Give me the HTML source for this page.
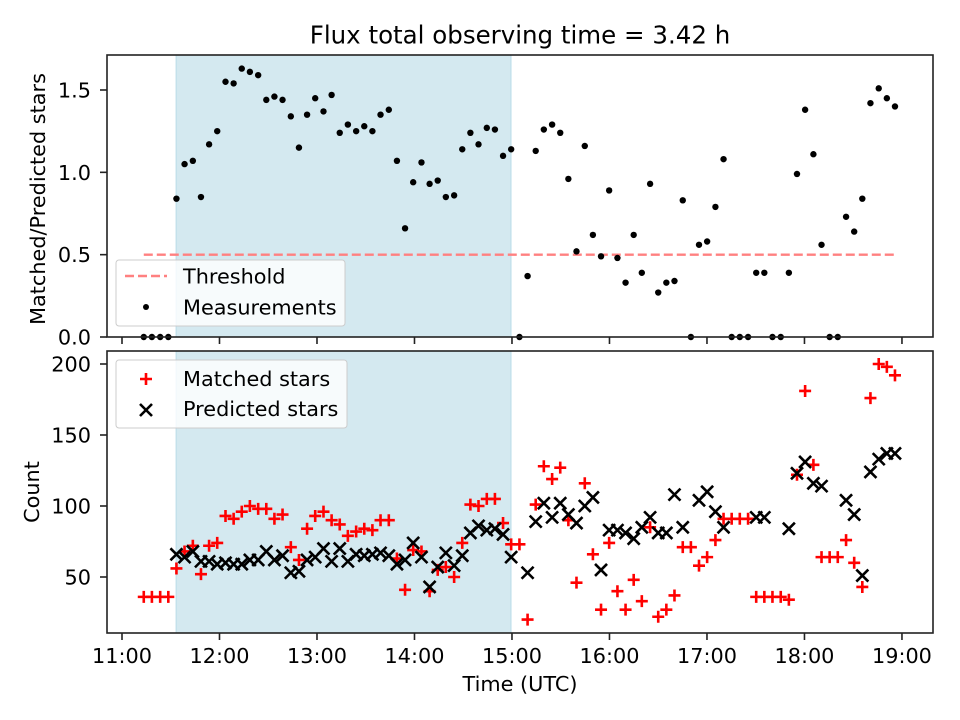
<!DOCTYPE html>
<html><head><meta charset="utf-8"><style>
body{margin:0;background:#fff}
svg{display:block;font-family:"DejaVu Sans","Liberation Sans",sans-serif}
</style></head><body>
<svg id="fig" width="960" height="720" viewBox="0 0 960 720" xmlns="http://www.w3.org/2000/svg"></svg>
<script>
// minutes after 11:00 UTC
const times=[13.4,18.4,23.5,28.5,33.5,38.5,43.6,48.6,53.6,58.6,
63.7,68.7,73.7,78.7,83.8,88.8,93.8,98.8,103.9,108.9,
113.9,118.9,124.0,129.0,134.0,139.0,144.1,149.1,154.1,159.1,
164.2,169.2,174.2,179.2,184.3,189.3,194.3,199.3,204.4,209.4,
214.4,219.4,224.5,229.5,234.5,239.5,244.6,249.6,254.6,259.6,
264.7,269.7,274.7,279.7,284.8,289.8,294.8,299.8,304.9,309.9,
314.9,319.9,325.0,330.0,335.0,340.0,345.1,350.1,355.1,360.1,
365.2,370.2,375.2,380.2,385.3,390.3,395.3,400.3,405.4,410.4,
415.4,420.4,425.5,430.5,435.5,440.5,445.6,450.6,455.6,460.6,
465.7,470.7,475.7];
const ratio=[0,0,0,0,0.84,1.05,1.07,0.85,1.17,1.25,
1.55,1.54,1.63,1.61,1.59,1.44,1.46,1.44,1.34,1.15,
1.35,1.45,1.37,1.47,1.24,1.29,1.25,1.28,1.25,1.35,
1.38,1.07,0.66,0.94,1.06,0.93,0.95,0.85,0.86,1.14,
1.24,1.17,1.27,1.26,1.10,1.14,0,0.37,1.13,1.26,
1.29,1.24,0.96,0.52,1.16,0.62,0.49,0.89,0.48,0.33,
0.62,0.39,0.93,0.27,0.33,0.34,0.83,0,0.56,0.58,
0.79,1.08,0,0,0,0.39,0.39,0,0,0.39,
0.99,1.38,1.11,0.56,0,0,0.73,0.64,0.84,1.42,
1.51,1.45,1.40];
const matched=[36,36,36,36,56,68,72,52,72,74,
93,91,96,100,98,98,91,94,71,62,
84,93,96,90,87,79,82,84,83,90,
90,63,41,69,68,40,55,57,50,74,
101,100,105,105,88,73,73,20,101,128,
119,127,90,46,116,66,27,74,40,27,
48,33,85,22,27,37,71,71,58,64,
76,91,91,91,91,36,36,36,36,34,
122,181,129,64,64,64,76,60,43,176,
200,198,192];
const predicted=[null,null,null,null,66,64,68,61,61,59,
60,59,59,62,62,68,62,65,53,54,
62,64,70,61,70,61,66,65,66,67,
65,59,62,74,64,43,57,67,58,65,
81,86,83,84,80,64,null,53,89,102,
92,102,94,88,100,106,55,83,83,81,
77,85,92,81,81,108,85,null,104,110,
96,85,null,null,null,92,92,null,null,84,
123,131,116,114,null,null,104,94,51,124,
133,137,137];
const yTicksTop=[0,0.5,1.0,1.5];
const yTickLabelsTop=["0.0","0.5","1.0","1.5"];
const yTicksBot=[50,100,150,200];
const xTicks=[0,60,120,180,240,300,360,420,480];
const xTickLabels=["11:00","12:00","13:00","14:00","15:00","16:00","17:00","18:00","19:00"];
const shadeStart=33.3, shadeEnd=239.4, threshold=0.5;

const NS="http://www.w3.org/2000/svg";
const svg=document.getElementById('fig');
function el(tag,attrs,parent,text){const e=document.createElementNS(NS,tag);for(const k in attrs)e.setAttribute(k,attrs[k]);if(text!==undefined)e.textContent=text;(parent||svg).appendChild(e);return e;}
const L=107,R=933,T1=55,B1=337,T2=351,B2=633;
const FS='20.8';
const xMin=-9.23,xMax=499.1;
const X=m=>L+(m-xMin)/(xMax-xMin)*(R-L);
const Y1=v=>B1-(v-0)/(1.7125-0)*(B1-T1);
const Y2=v=>577-(v-50)*1.42;

let t=el('text',{x:520,y:43.5,'text-anchor':'middle','font-size':'24.5'},svg,'Flux total observing time = 3.42 h');



function panel(top,bot,name){
  const g=el('g',{});
  
  
  const sh=el('rect',{x:X(shadeStart),y:top,width:X(shadeEnd)-X(shadeStart),height:bot-top,fill:'#d4e9f0',stroke:'#b9dce8','stroke-width':1},g);
  
  
  return g;
}
function frame(g,top,bot){
  el('rect',{x:L,y:top,width:R-L,height:bot-top,fill:'none',stroke:'#222','stroke-width':1.6},g);
}
function xAxis(g,bot,labels){
  xTicks.forEach((m,i)=>{
    el('line',{x1:X(m),x2:X(m),y1:bot,y2:bot+7,stroke:'#222','stroke-width':1.6},g);
    if(labels){const tl=el('text',{x:X(m),y:bot+30,'text-anchor':'middle','font-size':FS},g,xTickLabels[i]);
      
      }
  });
}
function yAxis(g,ticks,labels,Y){
  ticks.forEach((v,i)=>{
    el('line',{x1:L-7,x2:L,y1:Y(v),y2:Y(v),stroke:'#222','stroke-width':1.6},g);
    const tl=el('text',{x:L-16,y:Y(v)+7.5,'text-anchor':'end','font-size':FS},g,labels[i]);
    
    
  });
}
function plus(g,x,y,c){el('path',{d:`M${x-6} ${y}H${x+6}M${x} ${y-6}V${y+6}`,stroke:c,'stroke-width':2.6},g);}
function cross(g,x,y,c){el('path',{d:`M${x-6} ${y-6}L${x+6} ${y+6}M${x-6} ${y+6}L${x+6} ${y-6}`,stroke:c,'stroke-width':2.6},g);}

// TOP
const gt=panel(T1,B1,'ratio-panel');
const th=el('line',{x1:X(times[0]),x2:X(times[times.length-1]),y1:Y1(threshold),y2:Y1(threshold),stroke:'#ff8080','stroke-width':2.4,'stroke-dasharray':'9,4'},gt);


const gm=el('g',{},gt);


times.forEach((m,i)=>{el('circle',{cx:X(m),cy:Y1(ratio[i]),r:3.2,fill:'#000'},gm);});
frame(gt,T1,B1);xAxis(gt,B1,false);yAxis(gt,yTicksTop,yTickLabelsTop,Y1);
let yl=el('text',{transform:`translate(45,${(T1+B1)/2+3}) rotate(-90)`,'text-anchor':'middle','font-size':FS},gt,'Matched/Predicted stars');


const lg1=el('g',{},gt);


el('rect',{x:116,y:260,width:229,height:66,rx:3,fill:'#fff','fill-opacity':0.8,stroke:'#ccc'},lg1);
el('line',{x1:125,x2:167,y1:276,y2:276,stroke:'#ff8080','stroke-width':2.4,'stroke-dasharray':'9,4'},lg1);
el('text',{x:183,y:283.5,'font-size':FS},lg1,'Threshold');
el('circle',{cx:146,cy:307,r:3,fill:'#000'},lg1);
el('text',{x:183,y:314.5,'font-size':FS},lg1,'Measurements');

// BOTTOM
const gb=panel(T2,B2,'count-panel');
const gMat=el('g',{},gb);


const gPre=el('g',{},gb);


times.forEach((m,i)=>{
  if(matched[i]!=null)plus(gMat,X(m),Y2(matched[i]),'#ff0000');
  if(predicted[i]!=null)cross(gPre,X(m),Y2(predicted[i]),'#000');
});
frame(gb,T2,B2);xAxis(gb,B2,true);yAxis(gb,yTicksBot,yTicksBot.map(String),Y2);
yl=el('text',{transform:`translate(39,${(T2+B2)/2}) rotate(-90)`,'text-anchor':'middle','font-size':FS},gb,'Count');


let xl=el('text',{x:520,y:691,'text-anchor':'middle','font-size':FS},gb,'Time (UTC)');


const lg2=el('g',{},gb);


el('rect',{x:116,y:360,width:231,height:68,rx:3,fill:'#fff','fill-opacity':0.8,stroke:'#ccc'},lg2);
plus(lg2,146,379,'#ff0000');
el('text',{x:183,y:386,'font-size':FS},lg2,'Matched stars');
cross(lg2,146,410,'#000');
el('text',{x:183,y:416,'font-size':FS},lg2,'Predicted stars');
</script>
</body></html>
